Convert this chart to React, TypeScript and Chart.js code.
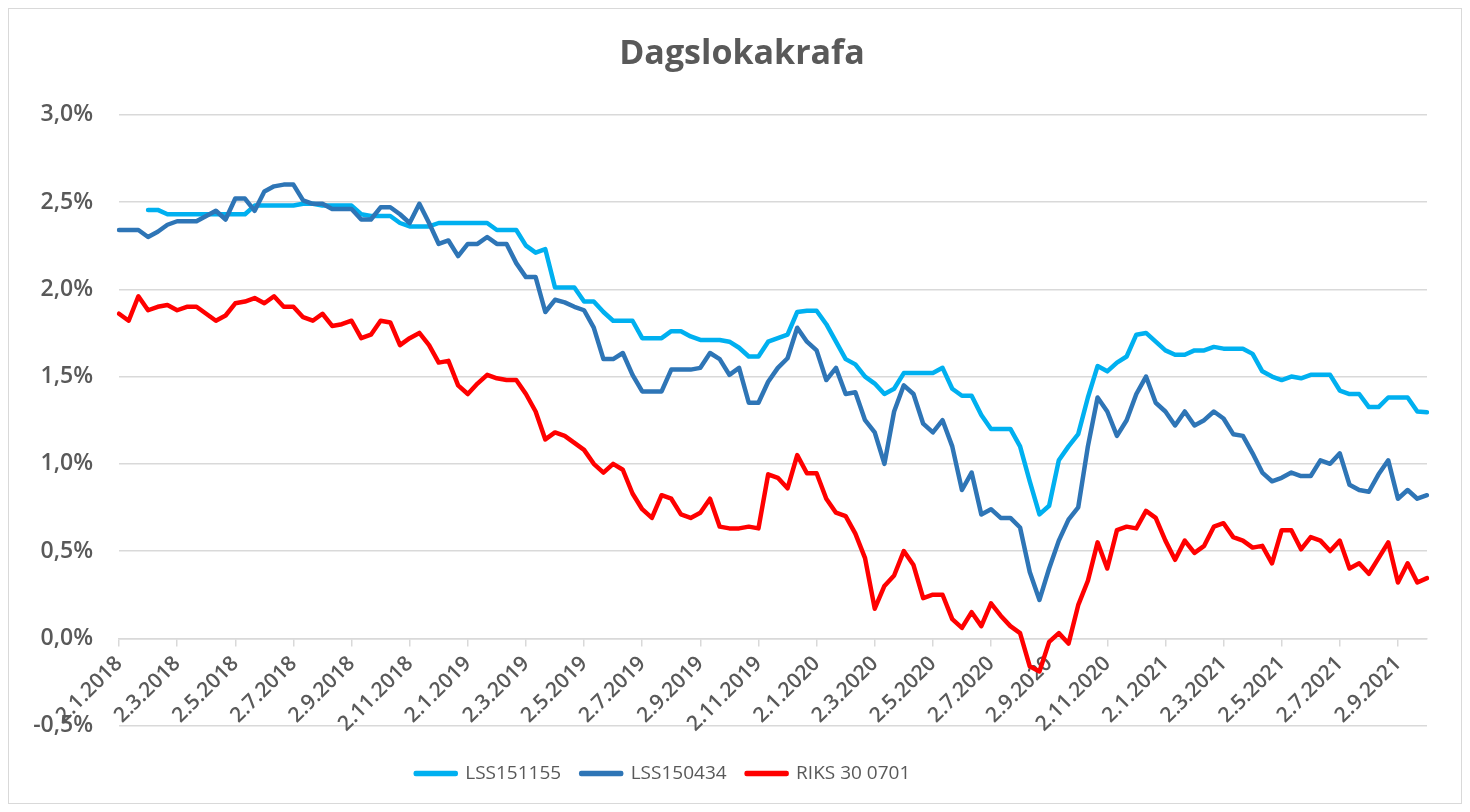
import React, { useEffect, useRef } from "react";
import { Chart, registerables } from "chart.js";

Chart.register(...registerables);

// Tick labels shown on the x axis (every second month)
const tickLabels = [
  "2.1.2018", "2.3.2018", "2.5.2018", "2.7.2018", "2.9.2018", "2.11.2018",
  "2.1.2019", "2.3.2019", "2.5.2019", "2.7.2019", "2.9.2019", "2.11.2019",
  "2.1.2020", "2.3.2020", "2.5.2020", "2.7.2020", "2.9.2020", "2.11.2020",
  "2.1.2021", "2.3.2021", "2.5.2021", "2.7.2021", "2.9.2021",
];

// Sample days within each month (three observations per month)
const sampleDays = [2, 12, 22];

const lss151155 = [
  null, null, null, 2.455, 2.455, 2.43, 2.43, 2.43, 2.43, 2.43,
  2.43, 2.43, 2.43, 2.43, 2.48, 2.48, 2.48, 2.48, 2.48, 2.49,
  2.49, 2.48, 2.48, 2.48, 2.48, 2.43, 2.42, 2.42, 2.42, 2.38,
  2.36, 2.36, 2.36, 2.38, 2.38, 2.38, 2.38, 2.38, 2.38, 2.34,
  2.34, 2.34, 2.25, 2.21, 2.23, 2.01, 2.01, 2.01, 1.93, 1.93,
  1.87, 1.82, 1.82, 1.82, 1.72, 1.72, 1.72, 1.76, 1.76, 1.73,
  1.71, 1.71, 1.71, 1.70, 1.665, 1.615, 1.615, 1.70, 1.72, 1.74,
  1.87, 1.877, 1.877, 1.80, 1.70, 1.60, 1.57, 1.50, 1.46, 1.40,
  1.43, 1.52, 1.52, 1.52, 1.52, 1.55, 1.43, 1.39, 1.39, 1.28,
  1.20, 1.20, 1.20, 1.10, 0.90, 0.71, 0.76, 1.02, 1.10, 1.17,
  1.38, 1.56, 1.53, 1.58, 1.615, 1.74, 1.75, 1.70, 1.65, 1.625,
  1.625, 1.65, 1.65, 1.67, 1.66, 1.66, 1.66, 1.63, 1.53, 1.50,
  1.48, 1.50, 1.49, 1.51, 1.51, 1.51, 1.42, 1.40, 1.40, 1.325,
  1.325, 1.38, 1.38, 1.38, 1.30, 1.295,
];

const lss150434 = [
  2.34, 2.34, 2.34, 2.30, 2.33, 2.37, 2.39, 2.39, 2.39, 2.42,
  2.45, 2.40, 2.52, 2.52, 2.45, 2.56, 2.59, 2.60, 2.60, 2.51,
  2.49, 2.49, 2.46, 2.46, 2.46, 2.40, 2.40, 2.47, 2.47, 2.43,
  2.38, 2.49, 2.38, 2.26, 2.28, 2.19, 2.26, 2.26, 2.30, 2.26,
  2.26, 2.15, 2.07, 2.07, 1.87, 1.94, 1.925, 1.90, 1.88, 1.78,
  1.60, 1.60, 1.635, 1.51, 1.415, 1.415, 1.415, 1.54, 1.54, 1.54,
  1.55, 1.635, 1.60, 1.51, 1.55, 1.35, 1.35, 1.47, 1.55, 1.605,
  1.78, 1.70, 1.65, 1.48, 1.55, 1.40, 1.41, 1.25, 1.18, 1.00,
  1.30, 1.45, 1.40, 1.23, 1.18, 1.25, 1.10, 0.85, 0.95, 0.71,
  0.74, 0.69, 0.69, 0.635, 0.38, 0.22, 0.40, 0.56, 0.68, 0.75,
  1.10, 1.38, 1.30, 1.16, 1.25, 1.40, 1.50, 1.35, 1.30, 1.22,
  1.30, 1.22, 1.25, 1.30, 1.26, 1.17, 1.16, 1.06, 0.95, 0.90,
  0.92, 0.95, 0.93, 0.93, 1.02, 1.00, 1.06, 0.88, 0.85, 0.84,
  0.94, 1.02, 0.80, 0.85, 0.80, 0.82,
];

const riks300701 = [
  1.86, 1.82, 1.96, 1.88, 1.90, 1.91, 1.88, 1.90, 1.90, 1.86,
  1.82, 1.85, 1.92, 1.93, 1.95, 1.92, 1.96, 1.90, 1.90, 1.84,
  1.82, 1.86, 1.79, 1.80, 1.82, 1.72, 1.74, 1.82, 1.81, 1.68,
  1.72, 1.75, 1.68, 1.58, 1.59, 1.45, 1.40, 1.46, 1.51, 1.49,
  1.48, 1.48, 1.40, 1.30, 1.14, 1.18, 1.16, 1.12, 1.08, 1.00,
  0.95, 1.00, 0.966, 0.83, 0.74, 0.69, 0.82, 0.80, 0.71, 0.69,
  0.72, 0.80, 0.64, 0.63, 0.63, 0.64, 0.63, 0.94, 0.92, 0.86,
  1.05, 0.946, 0.946, 0.80, 0.72, 0.70, 0.60, 0.46, 0.17, 0.30,
  0.36, 0.50, 0.42, 0.23, 0.25, 0.25, 0.11, 0.06, 0.15, 0.07,
  0.20, 0.13, 0.07, 0.03, -0.16, -0.19, -0.02, 0.03, -0.03, 0.19,
  0.33, 0.55, 0.40, 0.62, 0.64, 0.63, 0.73, 0.69, 0.56, 0.45,
  0.56, 0.49, 0.53, 0.64, 0.66, 0.58, 0.56, 0.52, 0.53, 0.43,
  0.62, 0.62, 0.51, 0.58, 0.56, 0.50, 0.56, 0.40, 0.43, 0.37,
  0.46, 0.55, 0.32, 0.43, 0.32, 0.345,
];

const seriesNames = ["LSS151155", "LSS150434", "RIKS 30 0701"];
const seriesColors = ["#00B0F0", "#2E75B6", "#FF0000"];

// Category labels (dates) built from the sample schedule
const categories: string[] = lss150434.map((_, i) => {
  const m = Math.floor(i / 3);
  const day = sampleDays[i % 3];
  const year = 2018 + Math.floor(m / 12);
  return `${day}.${(m % 12) + 1}.${year}`;
});

const boxShift = {
  id: "boxShift",
  afterLayout(chart: any) {
    const l = chart.legend;
    if (l) {
      l.left -= 55;
      l.right -= 55;
    }
    const t = chart.titleBlock;
    if (t) {
      t.left += 24;
      t.right += 24;
    }
  },
};

export default function App() {
  const ref = useRef<HTMLCanvasElement | null>(null);

  useEffect(() => {
    if (!ref.current) return;
    Chart.defaults.font.family = "'Open Sans', sans-serif";
    Chart.defaults.color = "#595959";
    const seriesData = [lss151155, lss150434, riks300701];
    const orders = [2, 1, 0];
    const chart = new Chart(ref.current, {
      type: "line",
      data: {
        labels: categories,
        datasets: seriesData.map((d, k) => ({
          label: seriesNames[k],
          data: d,
          borderColor: seriesColors[k],
          backgroundColor: seriesColors[k],
          borderWidth: 4.5,
          pointRadius: 0,
          pointHoverRadius: 0,
          tension: 0,
          order: orders[k],
          borderJoinStyle: "round" as const,
          borderCapStyle: "round" as const,
        })),
      },
      options: {
        animation: false,
        responsive: true,
        maintainAspectRatio: false,
        events: [],
        layout: { padding: { left: 0, right: 34, top: 0, bottom: 10 } },
        plugins: {
          title: {
            display: true,
            text: "Dagslokakrafa",
            color: "#595959",
            font: { size: 34, weight: "bold" },
            padding: { top: 25, bottom: 40 },
          },
          legend: {
            position: "bottom",
            align: "center",
            title: { display: true, text: "", font: { size: 12 }, padding: { top: 4, bottom: 0 } },
            labels: {
              boxWidth: 40,
              boxHeight: 1,
              padding: 20,
              color: "#595959",
              font: { size: 19 },
              sort: (a: any, b: any) => a.datasetIndex - b.datasetIndex,
            },
          },
          tooltip: { enabled: false },
        },
        scales: {
          x: {
            type: "category",
            position: { y: 0 } as any,
            ticks: {
              autoSkip: false,
              minRotation: 45,
              maxRotation: 45,
              padding: 6,
              color: "#595959",
              font: { size: 21, weight: "600" },
              callback: (v: any) => tickLabels[Math.round(Number(v) / 6)] ?? "",
            },
            afterBuildTicks: (s: any) => {
              s.ticks = s.ticks.filter((t: any) => t.value % 6 === 0);
            },
            grid: {
              drawOnChartArea: false,
              drawTicks: true,
              tickLength: 7,
              color: "#d9d9d9",
              lineWidth: 1.5,
            },
            border: { display: true, color: "#d9d9d9", width: 1.5 },
          },
          y: {
            min: -0.5,
            max: 3,
            ticks: {
              stepSize: 0.5,
              padding: 26,
              color: "#595959",
              font: { size: 23, weight: "600" },
              callback: (v: any) => Number(v).toFixed(1).replace(".", ",") + "%",
            },
            grid: { color: "#d9d9d9", lineWidth: 1.5, drawTicks: false },
            border: { display: false },
            afterFit: (s: any) => {
              s.width = 110;
            },
          },
        },
      },
      plugins: [boxShift],
    });
    return () => chart.destroy();
  }, []);

  return (
    <div
      style={{
        width: 1452,
        height: 794,
        border: "1px solid #d9d9d9",
        position: "relative",
        background: "#fff",
      }}
    >
      <canvas ref={ref} />
    </div>
  );
}
